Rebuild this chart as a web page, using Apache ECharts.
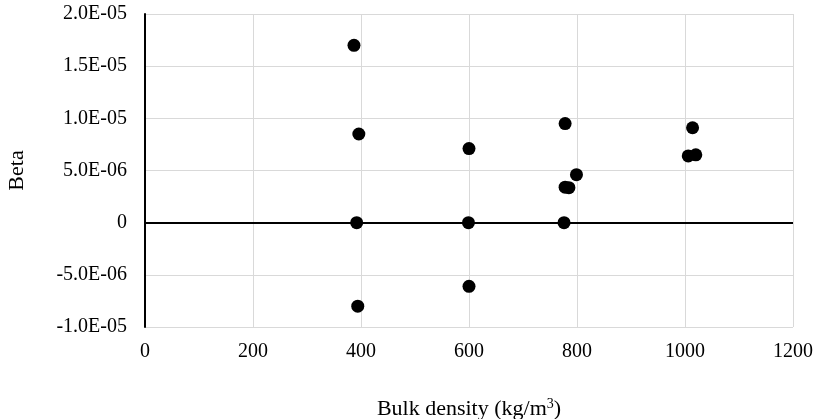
<!DOCTYPE html>
<html lang="en">
<head>
    <meta charset="UTF-8">
    <title>Beta vs Bulk density</title>
    <script src="https://cdn.jsdelivr.net/npm/echarts@6/dist/echarts.min.js"></script>
</head>
<style>
    html, body { margin: 0; padding: 0; background: #fff; }
    #main { width: 814px; height: 419px; }
</style>
<body>
<div id="main"></div>
<script>
    // values
    var bulkDensity = [387, 396, 392, 394, 600, 599, 600, 778, 799, 778, 785, 776, 1014, 1006, 1020];
    var beta = [1.70e-5, 0.85e-5, 0, -0.80e-5, 0.71e-5, 0, -0.61e-5, 0.95e-5, 0.46e-5, 0.34e-5, 0.335e-5, 0, 0.91e-5, 0.64e-5, 0.65e-5];

    var xTicks = [0, 200, 400, 600, 800, 1000, 1200];
    var yMin = -1e-5, yMax = 2e-5, yStep = 5e-6;

    var font = 'Liberation Serif';
    var points = [];
    for (var i = 0; i < bulkDensity.length; i++) {
        points.push([bulkDensity[i], beta[i]]);
    }

    // Excel-like scientific label: 1.5E-05
    function sci(v) {
        if (Math.abs(v) < 1e-12) return '0';
        var s = v.toExponential(1).split('e');
        var exp = parseInt(s[1], 10);
        var sign = exp < 0 ? '-' : '+';
        var e = Math.abs(exp);
        return s[0] + 'E' + sign + (e < 10 ? '0' + e : e);
    }

    var myChart = echarts.init(document.getElementById('main'));
    var option = {
        animation: false,
        backgroundColor: '#fff',
        grid: { left: 145, right: 21, top: 14, bottom: 92, outerBoundsMode: 'none', containLabel: false },
        xAxis: {
            type: 'value',
            min: xTicks[0],
            max: xTicks[xTicks.length - 1],
            interval: 200,
            name: 'Bulk density (kg/m{sup|3})',
            nameLocation: 'middle',
            nameGap: 70,
            nameTextStyle: {
                fontFamily: font, fontSize: 22, color: '#000',
                rich: {
                    sup: { fontFamily: font, fontSize: 14, color: '#000', verticalAlign: 'top', padding: [0, 0, 10, 0] }
                }
            },
            axisLine: { show: false, onZero: false },
            axisTick: { show: false },
            axisLabel: {
                fontFamily: font, fontSize: 20, color: '#000', margin: 15,
                formatter: function (v) { return String(v); }
            },
            splitLine: { lineStyle: { color: '#d9d9d9', width: 1 } }
        },
        yAxis: {
            type: 'value',
            min: yMin,
            max: yMax,
            interval: yStep,
            name: 'Beta',
            nameLocation: 'middle',
            nameGap: 117,
            nameTextStyle: { fontFamily: font, fontSize: 22, color: '#000' },
            axisLine: { show: true, onZero: false, lineStyle: { color: '#000', width: 2 } },
            axisTick: { show: false },
            axisLabel: { fontFamily: font, fontSize: 20, color: '#000', margin: 18, formatter: sci },
            splitLine: { lineStyle: { color: '#d9d9d9', width: 1 } }
        },
        series: [{
            type: 'scatter',
            data: points,
            symbolSize: 13,
            itemStyle: { color: '#000', opacity: 1 },
            z: 5,
            markLine: {
                silent: true,
                symbol: ['none', 'none'],
                label: { show: false },
                lineStyle: { color: '#000', width: 2, type: 'solid' },
                data: [{ yAxis: 0 }],
                z: 3
            }
        }]
    };
    myChart.setOption(option);
</script>
</body>
</html>
